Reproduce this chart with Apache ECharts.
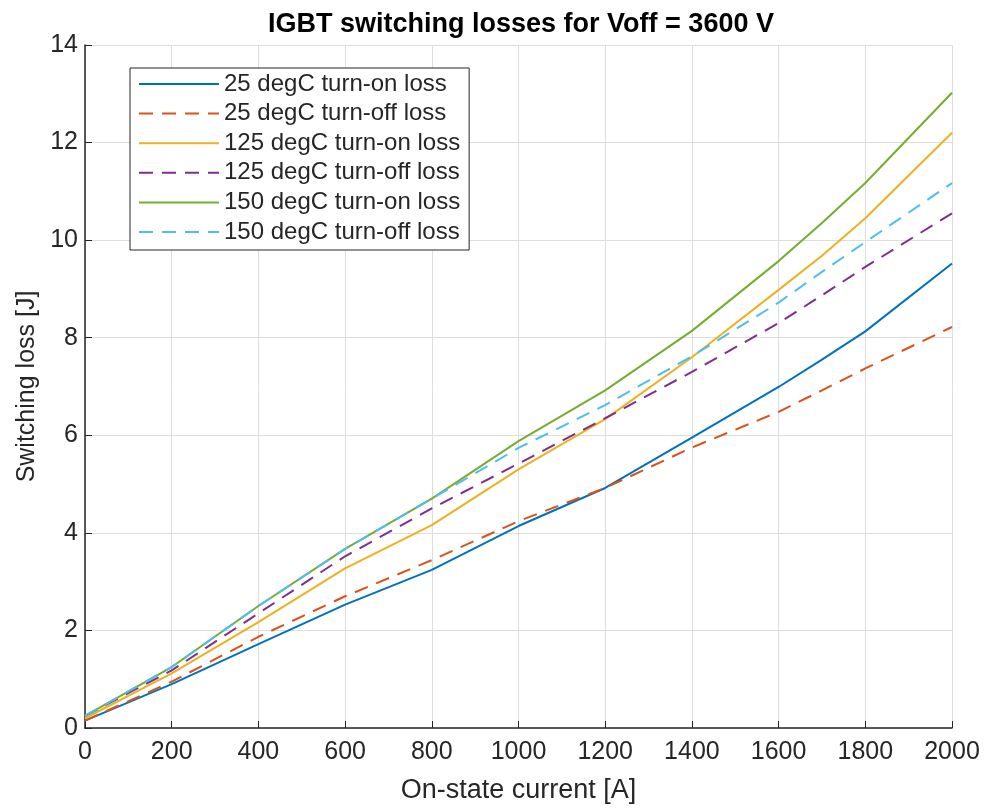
<!DOCTYPE html>
<html>
<head>
<meta charset="utf-8">
<script src="https://cdn.jsdelivr.net/npm/echarts@6/dist/echarts.min.js"></script>
<style>html,body{margin:0;padding:0;background:#fff}#c{width:987px;height:811px}</style>
</head>
<body>
<div id="c"></div>
<script>
const current = [0, 200, 400, 600, 800, 1000, 1200, 1400, 1600, 1700, 1800, 2000];
const on25   = [0.15, 0.90, 1.72, 2.53, 3.24, 4.14, 4.92, 5.95, 6.99, 7.55, 8.13, 9.52];
const off25  = [0.15, 0.95, 1.87, 2.70, 3.44, 4.24, 4.92, 5.75, 6.48, 6.92, 7.37, 8.22];
const on125  = [0.20, 1.12, 2.17, 3.27, 4.16, 5.30, 6.33, 7.60, 8.98, 9.68, 10.45, 12.20];
const off125 = [0.25, 1.18, 2.35, 3.52, 4.50, 5.42, 6.35, 7.30, 8.30, 8.87, 9.45, 10.55];
const on150  = [0.25, 1.25, 2.50, 3.67, 4.70, 5.88, 6.92, 8.14, 9.57, 10.35, 11.17, 13.02];
const off150 = [0.25, 1.25, 2.50, 3.67, 4.70, 5.74, 6.62, 7.62, 8.72, 9.35, 9.96, 11.17];
const names = ['25 degC turn-on loss','25 degC turn-off loss','125 degC turn-on loss','125 degC turn-off loss','150 degC turn-on loss','150 degC turn-off loss'];
const colors = ['#0072BD','#D95319','#EDB120','#7E2F8E','#77AC30','#4DBEEE'];
const seriesVals = [on25, off25, on125, off125, on150, off150];
const dashed = [false, true, false, true, false, true];

const FONT = 'Liberation Sans, Arial, sans-serif';
const chart = echarts.init(document.getElementById('c'), null, {renderer:'canvas'});
chart.setOption({
  animation: false,
  backgroundColor: '#fff',
  title: {
    text: 'IGBT switching losses for Voff = 3600 V',
    left: 516, top: 6, textAlign: 'center',
    textStyle: {fontFamily: FONT, fontSize: 27, fontWeight: 'bold', color: '#000'}
  },
  legend: {
    orient: 'vertical', left: 130, top: 68,
    itemWidth: 80, itemHeight: 14, itemGap: 5.6,
    padding: [4, 9, 6, 8],
    borderColor: '#262626', borderWidth: 1, backgroundColor: '#fff',
    itemStyle: {opacity: 0},
    textStyle: {fontFamily: FONT, fontSize: 24, color: '#262626'},
    data: names
  },
  grid: {left: 85, right: 35, top: 45, bottom: 83, show: false},
  xAxis: {
    type: 'value', min: 0, max: 2000, interval: 200,
    name: 'On-state current [A]', nameLocation: 'middle', nameGap: 49,
    nameTextStyle: {fontFamily: FONT, fontSize: 27, color: '#262626'},
    axisLine: {show: true, lineStyle: {color: '#262626', width: 1.5}},
    axisTick: {show: true, inside: true, length: 7, lineStyle: {color: '#262626'}},
    axisLabel: {fontFamily: FONT, fontSize: 25, color: '#262626', margin: 12, formatter: v => String(v)},
    splitLine: {show: true, lineStyle: {color: '#dedede', width: 1}}
  },
  yAxis: {
    type: 'value', min: 0, max: 14, interval: 2,
    name: 'Switching loss [J]', nameLocation: 'middle', nameGap: 38, nameRotate: 90,
    nameTextStyle: {fontFamily: FONT, fontSize: 25, color: '#262626'},
    axisLine: {show: true, lineStyle: {color: '#262626', width: 1.5}},
    axisTick: {show: true, inside: true, length: 7, lineStyle: {color: '#262626'}},
    axisLabel: {fontFamily: FONT, fontSize: 25, color: '#262626', margin: 7},
    splitLine: {show: true, lineStyle: {color: '#dedede', width: 1}}
  },
  series: seriesVals.map((vals, i) => ({
    name: names[i], type: 'line', showSymbol: false, symbol: 'none',
    data: current.map((x, k) => [x, vals[k]]),
    color: colors[i],
    lineStyle: {color: colors[i], width: 2, type: dashed[i] ? [14, 9] : 'solid'}
  }))
});
</script>
</body>
</html>
